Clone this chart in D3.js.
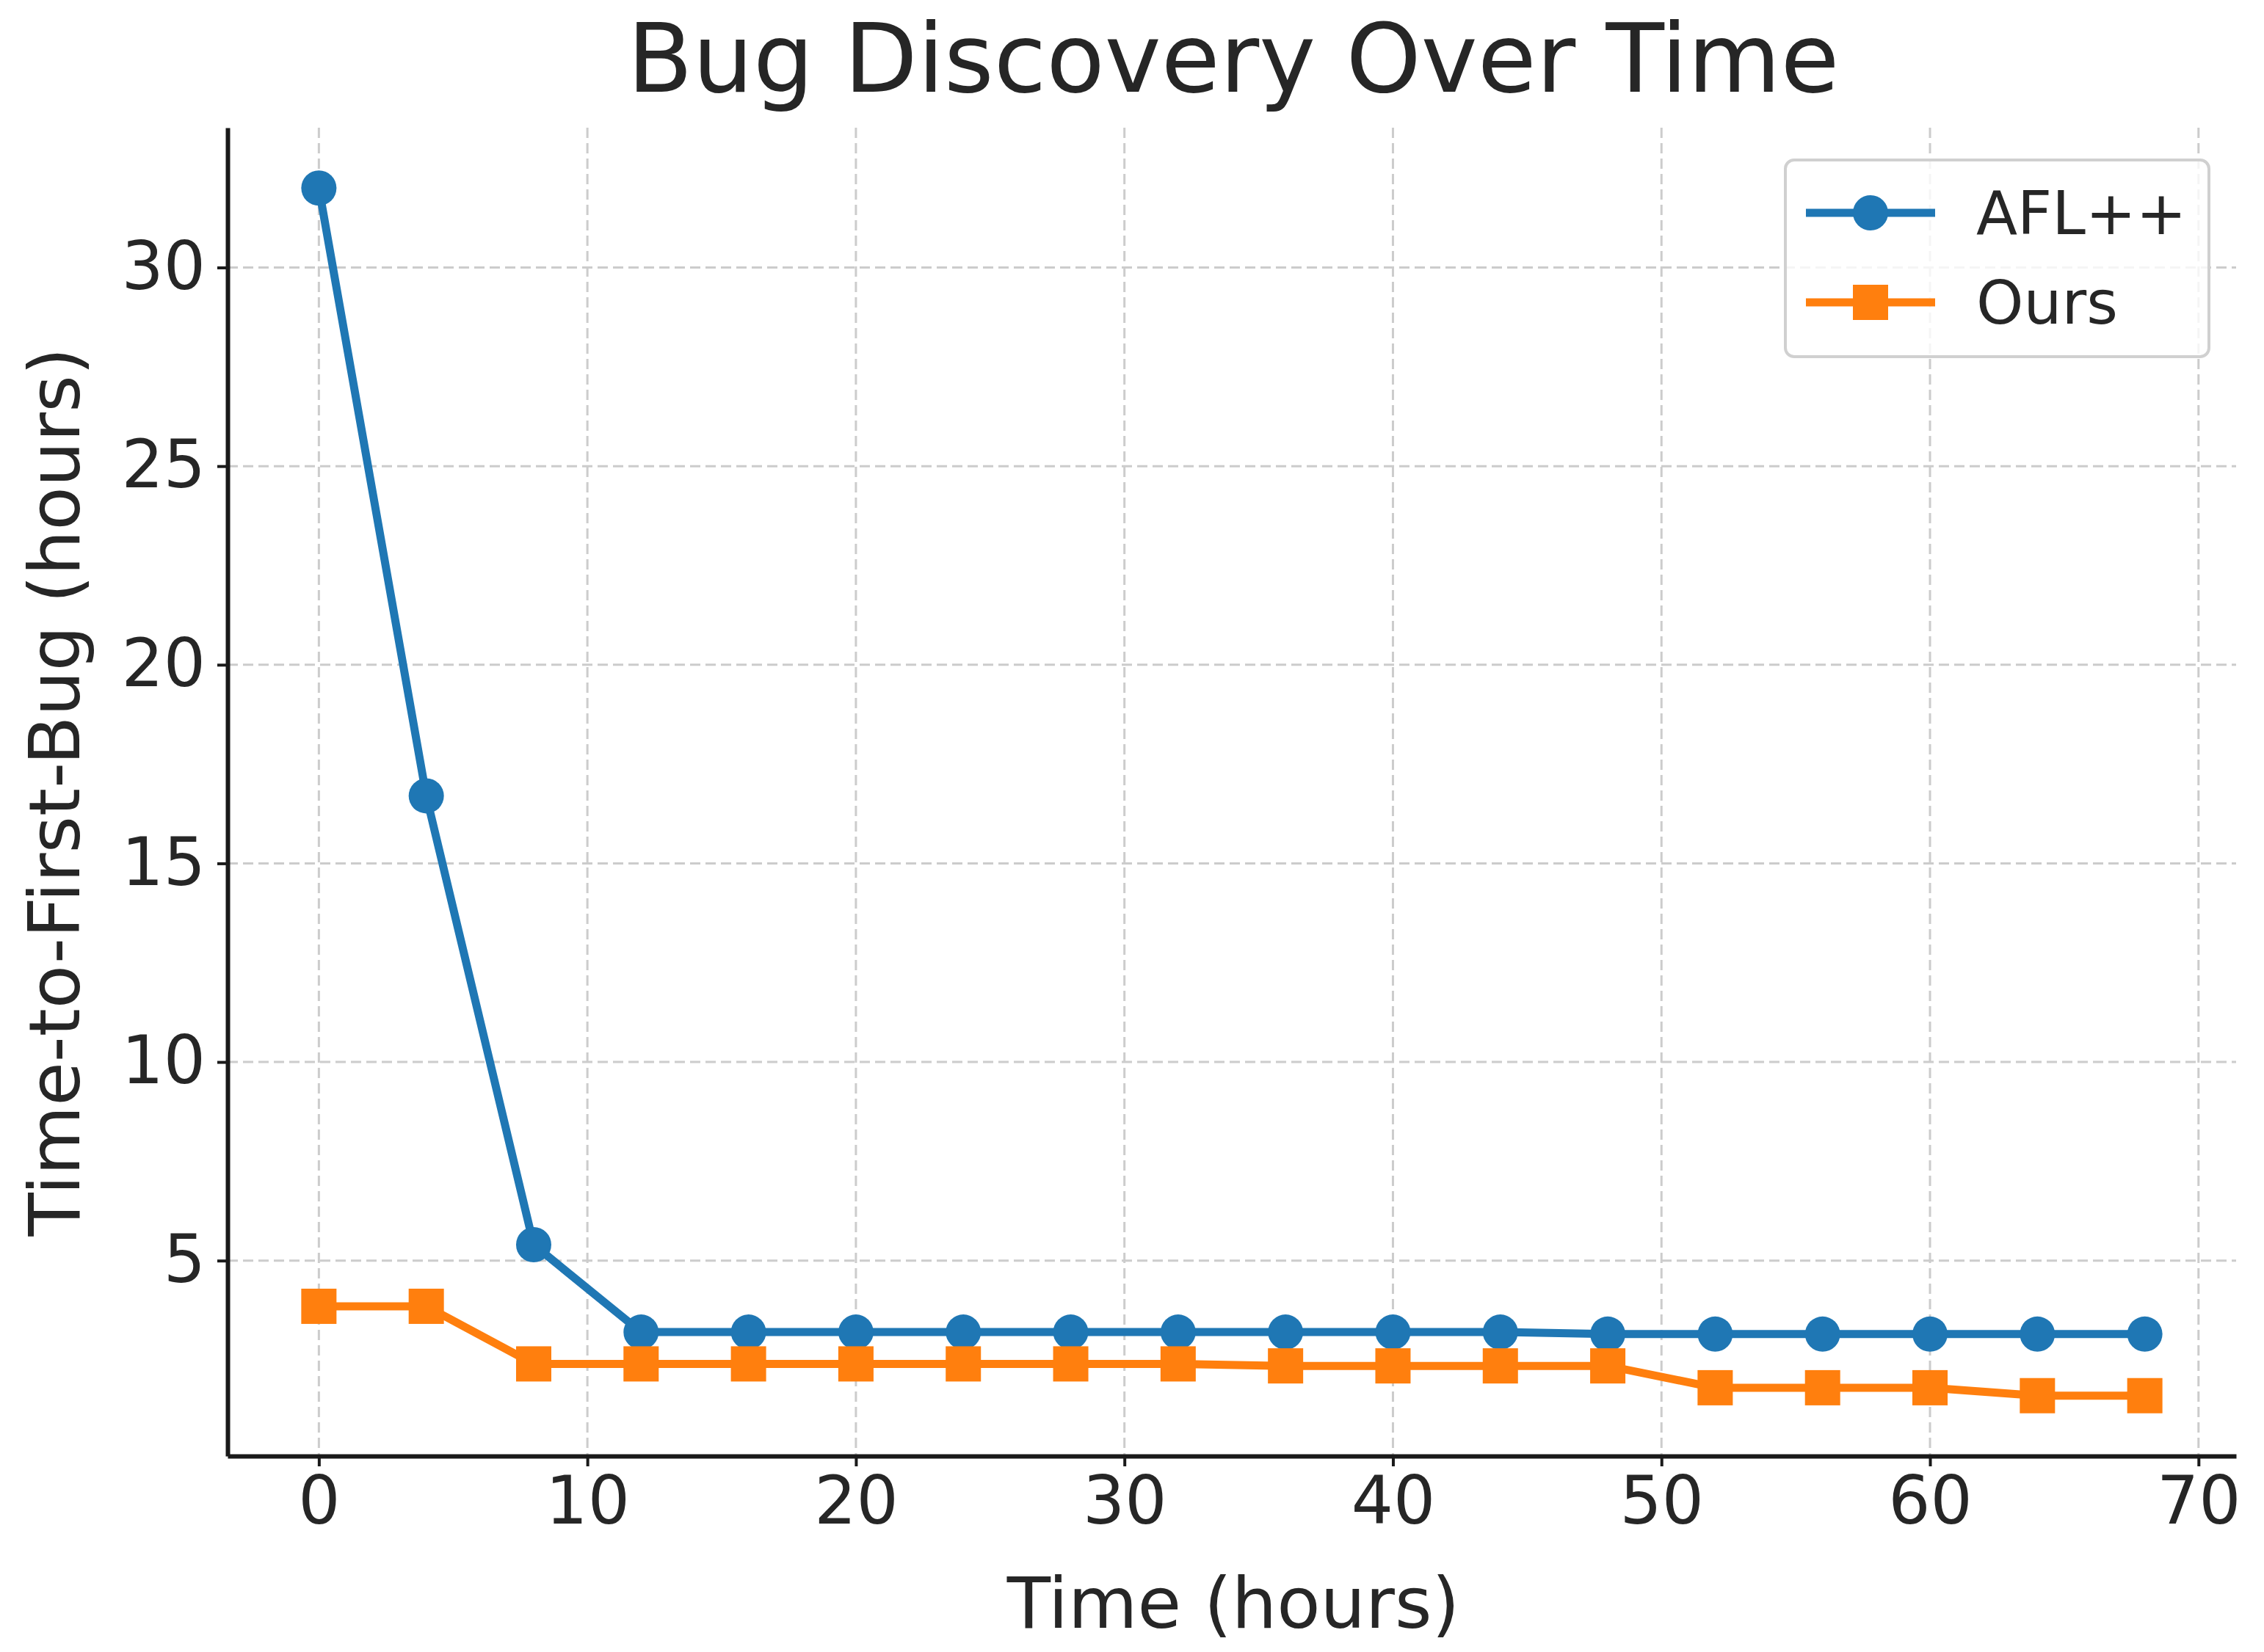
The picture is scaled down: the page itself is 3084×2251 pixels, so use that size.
<!DOCTYPE html>
<html><head><meta charset="utf-8">
<script src="https://cdn.jsdelivr.net/npm/d3@7"></script>
<style>body{margin:0;background:#fff}svg text{font-family:"DejaVu Sans";fill:#262626}</style>
</head><body>
<script>
const times=[0,4,8,12,16,20,24,28,32,36,40,44,48,52,56,60,64,68];
const afl=[32,16.7,5.4,3.2,3.2,3.2,3.2,3.2,3.2,3.2,3.2,3.2,3.15,3.15,3.15,3.15,3.15,3.15];
const ours=[3.85,3.85,2.4,2.4,2.4,2.4,2.4,2.4,2.4,2.35,2.35,2.35,2.35,1.8,1.8,1.8,1.6,1.6];
const xTicks=[0,10,20,30,40,50,60,70];
const yTicks=[5,10,15,20,25,30];
const W=3084,H=2251;
const svg=d3.select("body").append("svg").attr("width",W).attr("height",H);
const L=310,R=3046,T=174,B=1984;
const x=d3.scaleLinear().domain([-3.4,71.4]).range([L,R]);
const y=d3.scaleLinear().domain([0.08,33.52]).range([B,T]);
const g=svg.append("g");
g.selectAll(".gx").data(xTicks).enter().append("line").attr("x1",d=>x(d)).attr("x2",d=>x(d)).attr("y1",T).attr("y2",B)
 .attr("stroke","#cccccc").attr("stroke-width",3).attr("stroke-dasharray","14,7");
g.selectAll(".gy").data(yTicks).enter().append("line").attr("y1",d=>y(d)).attr("y2",d=>y(d)).attr("x1",L).attr("x2",R)
 .attr("stroke","#cccccc").attr("stroke-width",3).attr("stroke-dasharray","14,7");
const xa=svg.append("g").attr("transform",`translate(0,${B})`).call(d3.axisBottom(x).tickValues(xTicks).tickSize(14).tickPadding(14).tickSizeOuter(0));
const ya=svg.append("g").attr("transform",`translate(${L},0)`).call(d3.axisLeft(y).tickValues(yTicks).tickSize(14).tickPadding(16).tickSizeOuter(0));
[xa,ya].forEach(a=>{a.select(".domain").attr("stroke","#1a1a1a").attr("stroke-width",6);
 a.selectAll(".tick line").attr("stroke","#1a1a1a").attr("stroke-width",4);
 a.selectAll("text").attr("font-size",90).attr("font-family","DejaVu Sans").attr("fill","#262626");});
const c1="#1f77b4",c2="#ff7f0e";
const line=d3.line().x((d,i)=>x(times[i])).y(d=>y(d));
svg.append("path").datum(afl).attr("d",line).attr("fill","none").attr("stroke",c1).attr("stroke-width",11);
svg.append("path").datum(ours).attr("d",line).attr("fill","none").attr("stroke",c2).attr("stroke-width",11);
svg.selectAll(".c").data(afl).enter().append("circle").attr("cx",(d,i)=>x(times[i])).attr("cy",d=>y(d)).attr("r",24).attr("fill",c1);
svg.selectAll(".s").data(ours).enter().append("rect").attr("x",(d,i)=>x(times[i])-24).attr("y",d=>y(d)-24).attr("width",48).attr("height",48).attr("fill",c2);
svg.append("text").attr("x",1680).attr("y",125).attr("text-anchor","middle").attr("font-size",130).text("Bug Discovery Over Time");
svg.append("text").attr("x",1680).attr("y",2218).attr("text-anchor","middle").attr("font-size",97).text("Time (hours)");
svg.append("text").attr("transform",`translate(108,${(T+B)/2}) rotate(-90)`).attr("text-anchor","middle").attr("font-size",97).text("Time-to-First-Bug (hours)");
const lg=svg.append("g");
lg.append("rect").attr("x",2432).attr("y",218).attr("width",577).attr("height",268).attr("rx",12).attr("fill","#fff").attr("fill-opacity",0.8).attr("stroke","#d0d0d0").attr("stroke-width",4);
const items=[["AFL++",c1,"c"],["Ours",c2,"s"]];
items.forEach((it,i)=>{const yy=290+i*122;
 lg.append("line").attr("x1",2460).attr("x2",2636).attr("y1",yy).attr("y2",yy).attr("stroke",it[1]).attr("stroke-width",11);
 if(it[2]=="c")lg.append("circle").attr("cx",2548).attr("cy",yy).attr("r",24).attr("fill",it[1]);
 else lg.append("rect").attr("x",2524).attr("y",yy-24).attr("width",48).attr("height",48).attr("fill",it[1]);
 lg.append("text").attr("x",2692).attr("y",yy+29).attr("font-size",82).text(it[0]);});
</script></body></html>
